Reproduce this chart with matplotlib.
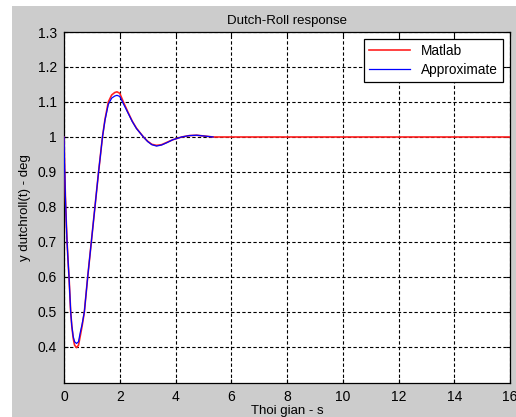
import matplotlib
matplotlib.use('Agg')
from matplotlib import pyplot as plt
from matplotlib.patches import Rectangle
from matplotlib import rcParams
rcParams['font.family'] = ['Liberation Sans', 'DejaVu Sans']
rcParams['font.size'] = 9.5

# values
t_matlab = [0.00, 0.02, 0.05, 0.08, 0.11, 0.15, 0.18, 0.21, 0.24, 0.28, 0.33, 0.38,
            0.45, 0.52, 0.58, 0.65, 0.73, 0.85, 0.98, 1.11, 1.24, 1.38, 1.47, 1.59,
            1.71, 1.82, 1.90, 2.00, 2.13, 2.30, 2.45, 2.60, 2.85,
            3.00, 3.15, 3.32, 3.50, 3.70, 3.90, 4.22, 4.50, 4.76, 5.00, 5.35, 16.0]
y_matlab = [1.000, 0.92, 0.83, 0.76, 0.70, 0.64, 0.60, 0.55, 0.50, 0.46, 0.425, 0.405,
            0.398, 0.405, 0.43, 0.46, 0.50, 0.60, 0.70, 0.80, 0.90, 1.00, 1.05, 1.10,
            1.12, 1.127, 1.129, 1.125, 1.10, 1.07, 1.045, 1.025, 1.00,
            0.988, 0.979, 0.976, 0.978, 0.985, 0.992, 1.000, 1.004, 1.005, 1.003, 1.000, 1.000]

t_approx = [0.00, 0.02, 0.05, 0.08, 0.11, 0.15, 0.18, 0.21, 0.24, 0.28, 0.33, 0.38,
            0.45, 0.52, 0.58, 0.65, 0.73, 0.85, 0.98, 1.11, 1.24, 1.38, 1.47, 1.59,
            1.71, 1.82, 1.90, 2.00, 2.13, 2.30, 2.45, 2.60, 2.85,
            3.00, 3.15, 3.32, 3.50, 3.70, 3.90, 4.22, 4.50, 4.76, 5.00, 5.35]
y_approx = [1.000, 0.92, 0.83, 0.76, 0.70, 0.64, 0.60, 0.55, 0.50, 0.46, 0.43, 0.415,
            0.41, 0.415, 0.44, 0.465, 0.50, 0.60, 0.70, 0.80, 0.90, 1.00, 1.048, 1.093,
            1.111, 1.117, 1.119, 1.116, 1.095, 1.068, 1.044, 1.024, 1.00,
            0.987, 0.978, 0.974, 0.977, 0.984, 0.992, 1.000, 1.004, 1.005, 1.003, 1.000]

xticks = [0, 2, 4, 6, 8, 10, 12, 14, 16]
yticks = [0.4, 0.5, 0.6, 0.7, 0.8, 0.9, 1.0, 1.1, 1.2, 1.3]
yticklabels = ['0.4', '0.5', '0.6', '0.7', '0.8', '0.9', '1', '1.1', '1.2', '1.3']

W, H = 516, 417
fig = plt.figure(figsize=(W / 100, H / 100), dpi=100, facecolor='white')
# grey matlab figure background (screenshot has white margin top/left)
fig.patches.append(Rectangle((12 / W, 0), 1 - 12 / W, 1 - 6 / H,
                             transform=fig.transFigure, facecolor='#cccccc',
                             edgecolor='none', zorder=-10))

ax = fig.add_axes([64 / W, (H - 383) / H, 446 / W, 351 / H])
ax.set_facecolor('white')

ax.plot(t_matlab, y_matlab, color='#ff2020', linewidth=1.2, label='Matlab', zorder=3)
ax.plot(t_approx, y_approx, color='#0000ff', linewidth=0.9, label='Approximate', zorder=4)

ax.set_xlim(0, 16)
ax.set_ylim(0.297, 1.3)
ax.set_xticks(xticks)
ax.set_yticks(yticks)
ax.set_yticklabels(yticklabels)
ax.grid(True, color='black', linestyle=(0, (3, 2)), linewidth=0.8)
ax.tick_params(axis='both', direction='in', length=3, top=True, right=True,
               labelsize=10, colors='black', pad=5)
for s in ax.spines.values():
    s.set_linewidth(0.9)

ax.set_title('Dutch-Roll response', fontsize=9.5, pad=6)
ax.set_xlabel('Thoi gian - s', fontsize=9.5, labelpad=1)
ax.set_ylabel('y dutchroll(t) - deg', fontsize=9.5, labelpad=5)

leg = ax.legend(loc='upper right', fancybox=False, edgecolor='black', framealpha=1,
                fontsize=9.8, handlelength=3.0, borderaxespad=0.5, labelspacing=0.35)
leg.get_frame().set_linewidth(0.9)

plt.savefig('out.png', dpi=100, facecolor=fig.get_facecolor())
